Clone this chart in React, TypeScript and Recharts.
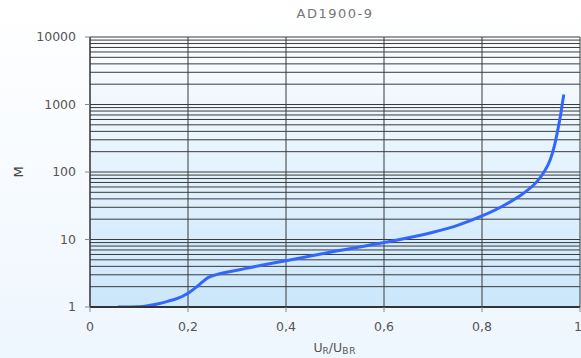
import React from 'react';
import { LineChart, Line, XAxis, YAxis, ReferenceLine, ReferenceArea } from 'recharts';

const uRatio = [0.057, 0.1, 0.12, 0.14, 0.16, 0.18, 0.2, 0.22, 0.24, 0.26, 0.3, 0.35, 0.4, 0.5, 0.6, 0.7, 0.75, 0.8, 0.85, 0.884, 0.912, 0.925, 0.939, 0.949, 0.956, 0.961, 0.964, 0.967];
const gainM = [1.0, 1.01, 1.05, 1.12, 1.22, 1.35, 1.6, 2.05, 2.7, 3.05, 3.5, 4.15, 4.85, 6.7, 9.0, 12.8, 16.2, 22.3, 33.6, 48, 72, 96, 150, 266, 470, 740, 1040, 1410];

const xTicks = [0, 0.2, 0.4, 0.6, 0.8, 1];
const yTicks = [1, 10, 100, 1000, 10000];
const yGrid = [
  2, 3, 4, 5, 6, 7, 8, 9, 10,
  20, 30, 40, 50, 60, 70, 80, 90, 100,
  200, 300, 400, 500, 600, 700, 800, 900, 1000,
  2000, 3000, 4000, 5000, 6000, 7000, 8000, 9000, 10000,
];
const xGrid = [0.2, 0.4, 0.6, 0.8, 1];

const data = uRatio.map((x, i) => ({ x, m: gainM[i] }));

const FONT = '"DejaVu Sans", Verdana, sans-serif';
const GRID = '#3a3a3a';

export default function App() {
  return (
    <div
      style={{
        position: 'absolute',
        left: 0,
        top: 0,
        width: 581,
        height: 358,
        background: 'linear-gradient(to bottom, #ffffff 0%, #eef6fe 100%)',
        fontFamily: FONT,
      }}
    >
      <LineChart width={581} height={358} data={data} margin={{ top: 37, right: 1, left: 0, bottom: 0 }}>
        <defs>
          <linearGradient id="plotBg" x1="0" y1="0" x2="0" y2="1">
            <stop offset="0%" stopColor="#fbfdff" />
            <stop offset="100%" stopColor="#cbe7fb" />
          </linearGradient>
        </defs>
        <XAxis
          dataKey="x"
          type="number"
          domain={[0, 1]}
          ticks={xTicks}
          allowDataOverflow
          height={51}
          tickSize={5}
          tickMargin={10}
          tickFormatter={(v: number) => String(v).replace('.', ',')}
          tick={{ fill: '#555', fontSize: 12.5, fontFamily: FONT }}
          axisLine={{ stroke: '#333', strokeWidth: 2 }}
          tickLine={{ stroke: '#888' }}
        />
        <YAxis
          type="number"
          scale="log"
          domain={[1, 10000]}
          ticks={yTicks}
          allowDataOverflow
          width={90}
          tickSize={5}
          tickMargin={9}
          tick={{ fill: '#555', fontSize: 12.5, fontFamily: FONT }}
          axisLine={{ stroke: '#333', strokeWidth: 1.5 }}
          tickLine={{ stroke: '#888' }}
        />
        <ReferenceArea x1={0} x2={1} y1={1} y2={10000} fill="url(#plotBg)" fillOpacity={1} stroke="none" />
        {yGrid.map((v) => (
          <ReferenceLine key={'h' + v} y={v} stroke={GRID} strokeWidth={1} />
        ))}
        {xGrid.map((v) => (
          <ReferenceLine key={'v' + v} x={v} stroke={GRID} strokeWidth={1} />
        ))}
        <Line
          type="monotone"
          dataKey="m"
          stroke="#3366ff"
          strokeWidth={3}
          dot={false}
          isAnimationActive={false}
        />
      </LineChart>
      <svg
        width={581}
        height={358}
        style={{ position: 'absolute', left: 0, top: 0, pointerEvents: 'none' }}
      >
        <text x={335} y={18} textAnchor="middle" fill="#777" fontSize={13} letterSpacing={1.5} fontFamily={FONT}>
          AD1900-9
        </text>
        <text x={335} y={352} textAnchor="middle" fill="#555" fontSize={12.5} fontFamily={FONT}>
          U<tspan fontSize={9} dy={2}>R</tspan>
          <tspan dy={-2}>/U</tspan>
          <tspan fontSize={9} dy={2} letterSpacing={1}>BR</tspan>
        </text>
        <text
          x={23}
          y={172}
          textAnchor="middle"
          fill="#444"
          fontSize={13}
          fontFamily={FONT}
          transform="rotate(-90, 23, 172)"
        >
          M
        </text>
      </svg>
    </div>
  );
}
